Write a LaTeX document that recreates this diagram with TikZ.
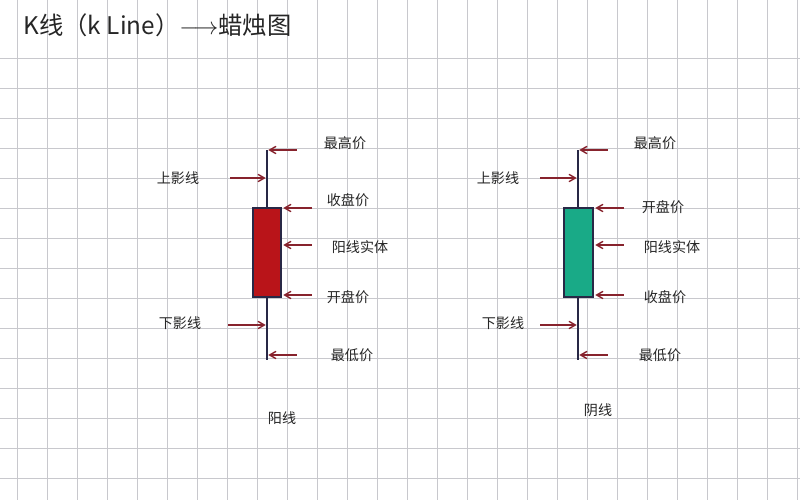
\documentclass[tikz,border=0pt]{standalone}
\usepackage{fontspec}
\setmainfont{Noto Sans CJK SC}
\usetikzlibrary{arrows,positioning}
\definecolor{gridgray}{RGB}{200,200,205}
\definecolor{arrred}{RGB}{135,35,45}
\definecolor{wick}{RGB}{40,40,70}
\definecolor{bodyred}{RGB}{185,20,25}
\definecolor{bodygreen}{RGB}{25,170,135}
\tikzset{font=\normalsize}
\tikzstyle{lbl}=[inner sep=1pt,text=black!85]
\tikzstyle{pt}=[inner sep=0pt,minimum size=0pt]
\begin{document}
\begin{tikzpicture}[x=0.025cm,y=-0.025cm]
\useasboundingbox (0,0) rectangle (800,500);
\fill[white] (0,0) rectangle (800,500);
\foreach \i in {0,...,26} \draw[gridgray] (17+30*\i,0) -- (17+30*\i,500);
\foreach \j in {2,...,16} \draw[gridgray] (0,30*\j-2) -- (800,30*\j-2);
\node[lbl,anchor=west,font=\LARGE] (T) at (22,25) {K线（k Line）$\longrightarrow$蜡烛图};
%% left candle
\draw[wick,line width=1pt] (267,150) -- (267,360);
\node[draw=wick,fill=bodyred,line width=1pt,minimum width=0.7cm,minimum height=2.225cm,inner sep=0pt] (R) at (267,252.5) {};
\node[pt] (Ra) at (268,150) {};
\node[pt] (Rb) at (266,178) {};
\node[pt] (Rc) at (283,208) {};
\node[pt] (Rd) at (283,245) {};
\node[pt] (Re) at (283,295) {};
\node[pt] (Rf) at (266,325) {};
\node[pt] (Rg) at (268,355) {};
\node[pt] (ra) at (297,150) {};
\node[pt] (rb) at (230,178) {};
\node[pt] (rc) at (312,208) {};
\node[pt] (rd) at (312,245) {};
\node[pt] (re) at (312,295) {};
\node[pt] (rf) at (228,325) {};
\node[pt] (rg) at (297,355) {};
\node[lbl] (A1) at (345,143) {最高价};
\node[lbl] (A2) at (178,178) {上影线};
\node[lbl] (A3) at (348,200) {收盘价};
\node[lbl] (A4) at (360,247) {阳线实体};
\node[lbl] (A5) at (348,297) {开盘价};
\node[lbl] (A6) at (180,323) {下影线};
\node[lbl] (A7) at (352,355) {最低价};
\node[lbl] (A8) at (282,418) {阳线};
\path[->,arrred,line width=1pt,>=angle 60]
(ra) edge (Ra) (rb) edge (Rb) (rc) edge (Rc) (rd) edge (Rd)
(re) edge (Re) (rf) edge (Rf) (rg) edge (Rg);
%% right candle
\draw[wick,line width=1pt] (578,150) -- (578,360);
\node[draw=wick,fill=bodygreen,line width=1pt,minimum width=0.725cm,minimum height=2.225cm,inner sep=0pt] (G) at (578.5,252.5) {};
\node[pt] (Ga) at (579,150) {};
\node[pt] (Gb) at (577,178) {};
\node[pt] (Gc) at (595,208) {};
\node[pt] (Gd) at (595,245) {};
\node[pt] (Ge) at (595,295) {};
\node[pt] (Gf) at (577,325) {};
\node[pt] (Gg) at (579,355) {};
\node[pt] (ga) at (608,150) {};
\node[pt] (gb) at (540,178) {};
\node[pt] (gc) at (624,208) {};
\node[pt] (gd) at (624,245) {};
\node[pt] (ge) at (624,295) {};
\node[pt] (gf) at (540,325) {};
\node[pt] (gg) at (608,355) {};
\node[lbl] (B1) at (655,143) {最高价};
\node[lbl] (B2) at (498,178) {上影线};
\node[lbl] (B3) at (663,207) {开盘价};
\node[lbl] (B4) at (672,247) {阳线实体};
\node[lbl] (B5) at (665,297) {收盘价};
\node[lbl] (B6) at (503,323) {下影线};
\node[lbl] (B7) at (660,355) {最低价};
\node[lbl] (B8) at (598,410) {阴线};
\path[->,arrred,line width=1pt,>=angle 60]
(ga) edge (Ga) (gb) edge (Gb) (gc) edge (Gc) (gd) edge (Gd)
(ge) edge (Ge) (gf) edge (Gf) (gg) edge (Gg);
\end{tikzpicture}
\end{document}
